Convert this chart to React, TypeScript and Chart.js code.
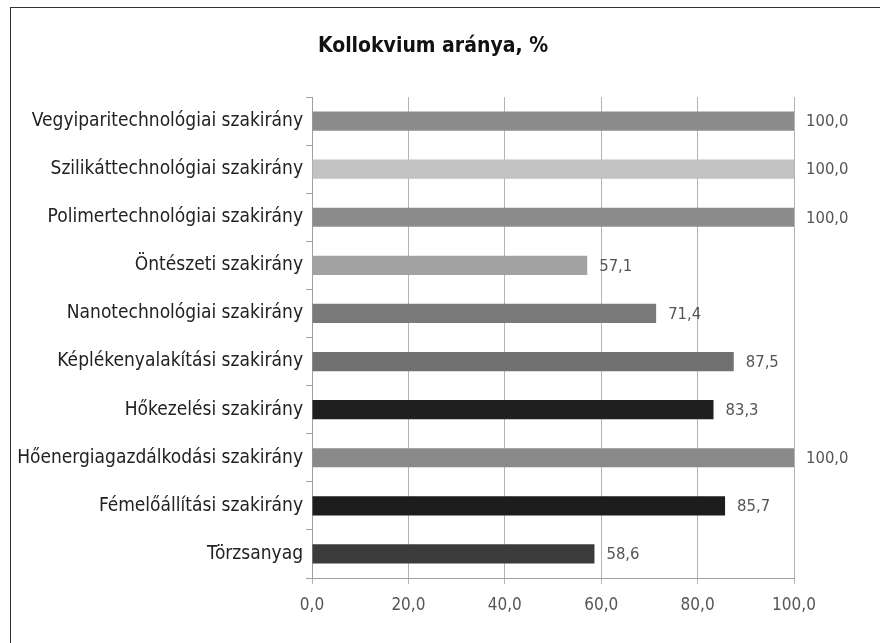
import React, { useEffect, useRef } from "react";
import { Chart, registerables } from "chart.js";

Chart.register(...registerables);

const titleText = "Kollokvium aránya, %";

const categories = [
  "Vegyiparitechnológiai szakirány",
  "Szilikáttechnológiai szakirány",
  "Polimertechnológiai szakirány",
  "Öntészeti szakirány",
  "Nanotechnológiai szakirány",
  "Képlékenyalakítási szakirány",
  "Hőkezelési szakirány",
  "Hőenergiagazdálkodási szakirány",
  "Fémelőállítási szakirány",
  "Törzsanyag",
];

const values = [100.0, 100.0, 100.0, 57.1, 71.4, 87.5, 83.3, 100.0, 85.7, 58.6];

const barColors = [
  "#8c8c8c",
  "#c2c2c2",
  "#8c8c8c",
  "#a2a2a2",
  "#7a7a7a",
  "#717171",
  "#1f1f1f",
  "#8a8a8a",
  "#1d1d1d",
  "#3b3b3b",
];

const xTicks = [0, 20, 40, 60, 80, 100];

const FONT = "'DejaVu Sans Condensed', 'DejaVu Sans', sans-serif";

const fmt = (v: number) => v.toFixed(1).replace(".", ",");

const valueLabels = {
  id: "valueLabels",
  afterDatasetsDraw(chart: any) {
    const ctx = chart.ctx;
    const meta = chart.getDatasetMeta(0);
    ctx.save();
    ctx.font = `16.5px ${FONT}`;
    ctx.fillStyle = "#555";
    ctx.textAlign = "left";
    ctx.textBaseline = "middle";
    meta.data.forEach((el: any, i: number) => {
      ctx.fillText(fmt(values[i]), el.x + 12, el.y + 1);
    });
    ctx.restore();
  },
};

const titlePlugin = {
  id: "customTitle",
  afterDraw(chart: any) {
    const ctx = chart.ctx;
    ctx.save();
    ctx.font = `bold 21px ${FONT}`;
    ctx.fillStyle = "#111";
    ctx.textAlign = "center";
    ctx.textBaseline = "middle";
    ctx.fillText(titleText, 433, 47);
    ctx.restore();
  },
};

export default function App() {
  const ref = useRef<HTMLCanvasElement | null>(null);

  useEffect(() => {
    if (!ref.current) return;
    const chart = new Chart(ref.current, {
      type: "bar",
      data: {
        labels: categories,
        datasets: [
          {
            data: values,
            backgroundColor: barColors,
            borderWidth: 0,
            barPercentage: 0.4,
            categoryPercentage: 1,
          },
        ],
      },
      options: {
        indexAxis: "y",
        animation: false,
        responsive: false,
        maintainAspectRatio: false,
        layout: { padding: { left: 0, right: 86, top: 97, bottom: 0 } },
        plugins: {
          legend: { display: false },
          tooltip: { enabled: false },
          title: { display: false },
        },
        scales: {
          x: {
            min: 0,
            max: 100,
            afterBuildTicks: (scale: any) => {
              scale.ticks = xTicks.map((v) => ({ value: v }));
            },
            afterFit: (scale: any) => {
              scale.height = 65;
            },
            ticks: {
              callback: (v: any) => fmt(Number(v)),
              color: "#555",
              font: { family: FONT, size: 17 },
              padding: 11,
            },
            grid: {
              color: "#b4b4b4",
              tickLength: 6,
              drawTicks: true,
            },
            border: { display: true, color: "#a0a0a0" },
          },
          y: {
            afterFit: (scale: any) => {
              scale.width = 312;
            },
            ticks: {
              color: "#222",
              font: { family: FONT, size: 19 },
              padding: 3,
            },
            grid: {
              drawOnChartArea: false,
              drawTicks: true,
              tickLength: 6,
              color: "#a0a0a0",
              offset: true,
            },
            border: { display: true, color: "#a0a0a0" },
          },
        },
      },
      plugins: [valueLabels, titlePlugin],
    });
    return () => chart.destroy();
  }, []);

  return (
    <div
      style={{
        position: "absolute",
        left: 0,
        top: 0,
        width: 880,
        height: 643,
        overflow: "hidden",
        background: "#fff",
      }}
    >
      <div
        style={{
          position: "absolute",
          left: 10,
          top: 7,
          width: 900,
          height: 700,
          border: "1.5px solid #333",
          boxSizing: "border-box",
        }}
      />
      <canvas
        ref={ref}
        width={880}
        height={643}
        style={{ position: "absolute", left: 0, top: 0, width: 880, height: 643 }}
      />
    </div>
  );
}
